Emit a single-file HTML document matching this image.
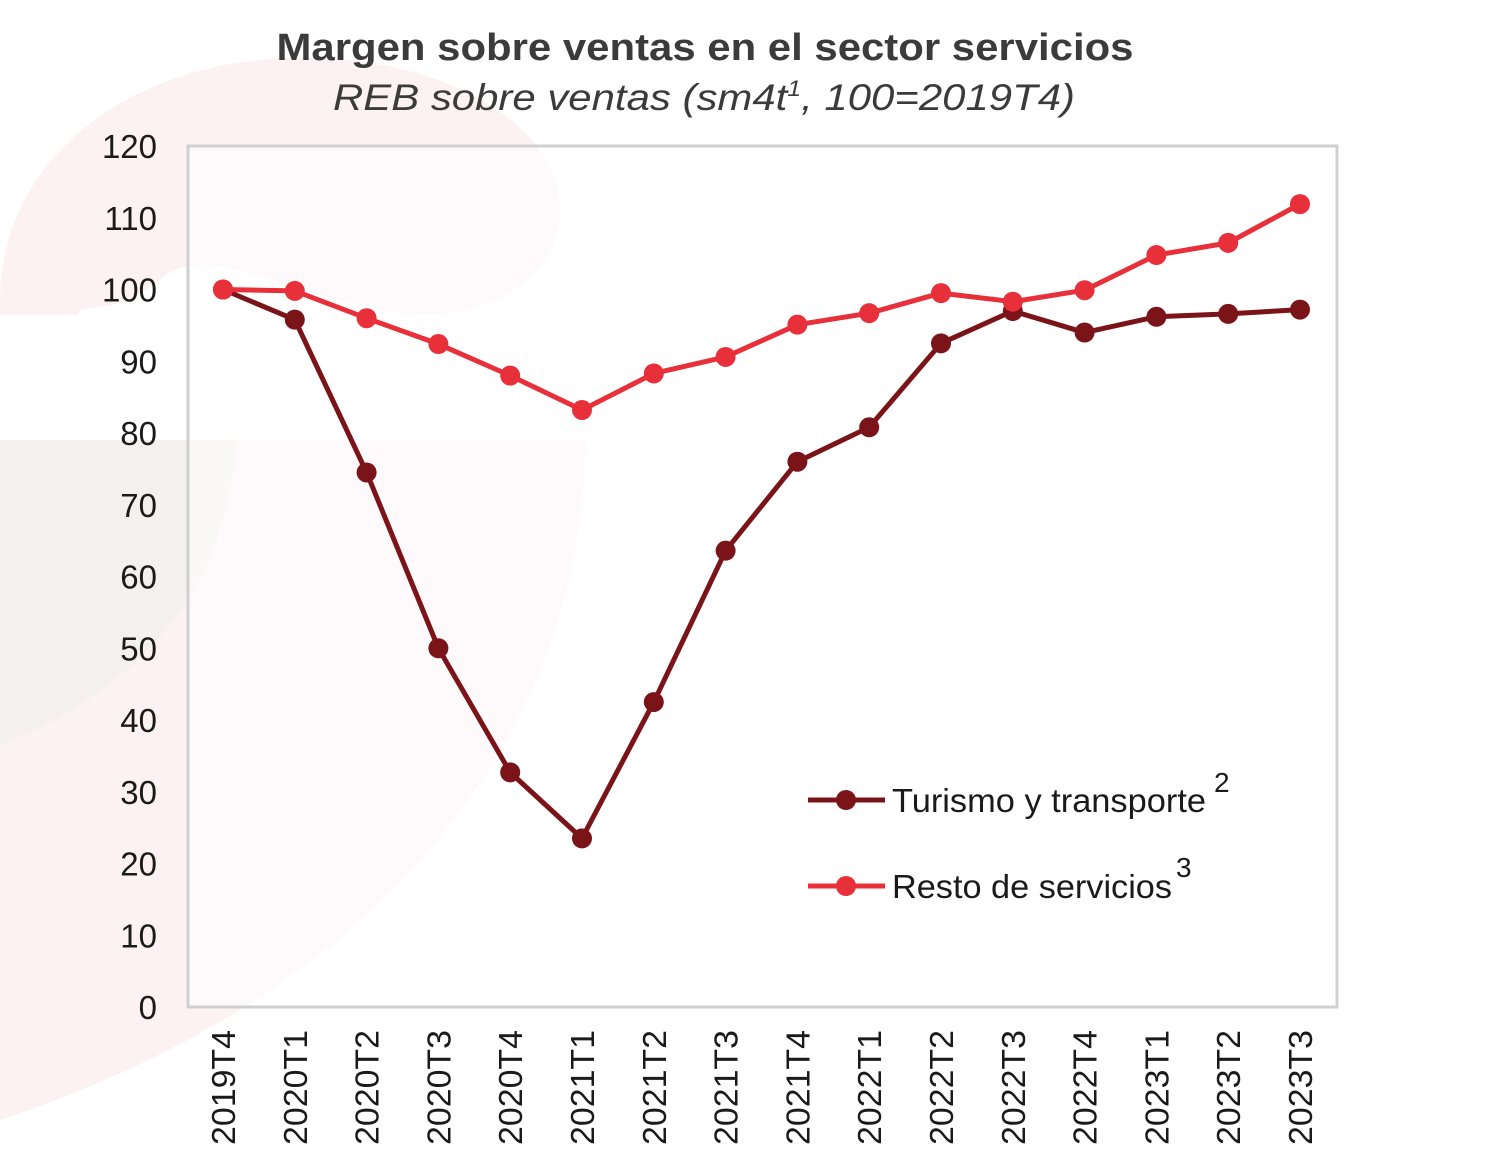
<!DOCTYPE html>
<html><head><meta charset="utf-8"><style>
html,body{margin:0;padding:0;background:#fff;width:1500px;height:1176px;overflow:hidden}
svg{display:block;font-family:"Liberation Sans",Arial,sans-serif}
</style></head><body>
<svg id="chart" width="1500" height="1176" viewBox="0 0 1500 1176">
  <g>
    <path d="M0,300 C0,150 150,40 350,60 C480,75 560,140 560,210 C560,280 480,330 380,310 C280,290 200,240 160,280 C110,320 80,300 78,315 L0,315 Z" fill="#fdf2f3"/>
    <path d="M0,440 L585,440 C585,700 420,980 0,1120 Z" fill="#fdf2f3"/>
    <path d="M0,440 L235,440 C230,600 120,700 0,745 Z" fill="#f5f0f0"/>
  </g>
  <rect x="188" y="146" width="1149" height="861" fill="#fff" fill-opacity="0.55" stroke="#d0d0d0" stroke-width="3"/>
  <text x="705" y="60" text-anchor="middle" font-size="38" font-weight="bold" fill="#3b3b3b" textLength="857" lengthAdjust="spacingAndGlyphs">Margen sobre ventas en el sector servicios</text>
  <text x="704" y="110" text-anchor="middle" font-size="37" font-style="italic" fill="#3b3b3b" textLength="742" lengthAdjust="spacingAndGlyphs">REB sobre ventas (sm4t<tspan font-size="22" dy="-14">1</tspan><tspan dy="14">, 100=2019T4)</tspan></text>
  <g id="yaxis"></g>
  <g id="xaxis"></g>
  <g id="series"></g>
  <g>
    <g>
      <line x1="808" y1="800" x2="885" y2="800" stroke="#7b1419" stroke-width="5"/>
      <circle cx="846" cy="800" r="10" fill="#7b1419"/>
      <text x="892" y="812" font-size="33" fill="#1a1a1a" textLength="314" lengthAdjust="spacingAndGlyphs">Turismo y transporte</text>
      <text x="1214" y="792" font-size="28" fill="#1a1a1a">2</text>
    </g>
    <g>
      <line x1="808" y1="886" x2="885" y2="886" stroke="#e8303a" stroke-width="5"/>
      <circle cx="846" cy="886" r="10" fill="#e8303a"/>
      <text x="892" y="898" font-size="33" fill="#1a1a1a" textLength="280" lengthAdjust="spacingAndGlyphs">Resto de servicios</text>
      <text x="1176" y="877" font-size="28" fill="#1a1a1a">3</text>
    </g>
  </g>
</svg>
<script>
const categories = ["2019T4","2020T1","2020T2","2020T3","2020T4","2021T1","2021T2","2021T3","2021T4","2022T1","2022T2","2022T3","2022T4","2023T1","2023T2","2023T3"];
const turismo = [100,95.8,74.5,50,32.7,23.5,42.5,63.6,76,80.8,92.5,97,94,96.2,96.6,97.2];
const resto = [100,99.8,96,92.4,88,83.2,88.3,90.6,95.1,96.7,99.5,98.3,99.9,104.8,106.5,111.9];
const yTicks = [0,10,20,30,40,50,60,70,80,90,100,110,120];

const NS = "http://www.w3.org/2000/svg";
const x0 = 223, x1 = 1300, yBase = 1007, yTop = 146, yMax = 120;
function xPos(i){ return x0 + (x1 - x0) * i / (categories.length - 1); }
function yPos(v){ return yBase - (yBase - yTop) * v / yMax; }
function mk(tag, attrs, parent){ const e = document.createElementNS(NS, tag); for (const k in attrs) e.setAttribute(k, attrs[k]); parent.appendChild(e); return e; }

const ya = document.getElementById('yaxis');
yTicks.forEach(t => {
  const el = mk('text', {x: 157, y: yPos(t) + 12, 'text-anchor': 'end', 'font-size': 33, fill: '#1a1a1a'}, ya);
  
  
  el.textContent = t;
});
const xa = document.getElementById('xaxis');
categories.forEach((c, i) => {
  const el = mk('text', {x: 0, y: 0, 'text-anchor': 'end', 'font-size': 33, fill: '#1a1a1a', textLength: 115, lengthAdjust: 'spacingAndGlyphs', transform: `translate(${xPos(i) + 12},1030) rotate(-90)`}, xa);
  
  
  el.textContent = c;
});

const sg = document.getElementById('series');
function drawSeries(vals, color, name){
  const pts = vals.map((v, i) => xPos(i) + ',' + yPos(v)).join(' ');
  const pl = mk('polyline', {points: pts, fill: 'none', stroke: color, 'stroke-width': 5, 'stroke-linejoin': 'round'}, sg);
  
  
  vals.forEach((v, i) => {
    const c = mk('circle', {cx: xPos(i), cy: yPos(v), r: 10, fill: color}, sg);
    
    
  });
}
drawSeries(turismo, '#7b1419', 'turismo');
drawSeries(resto, '#e8303a', 'resto');
</script>
</body></html>
